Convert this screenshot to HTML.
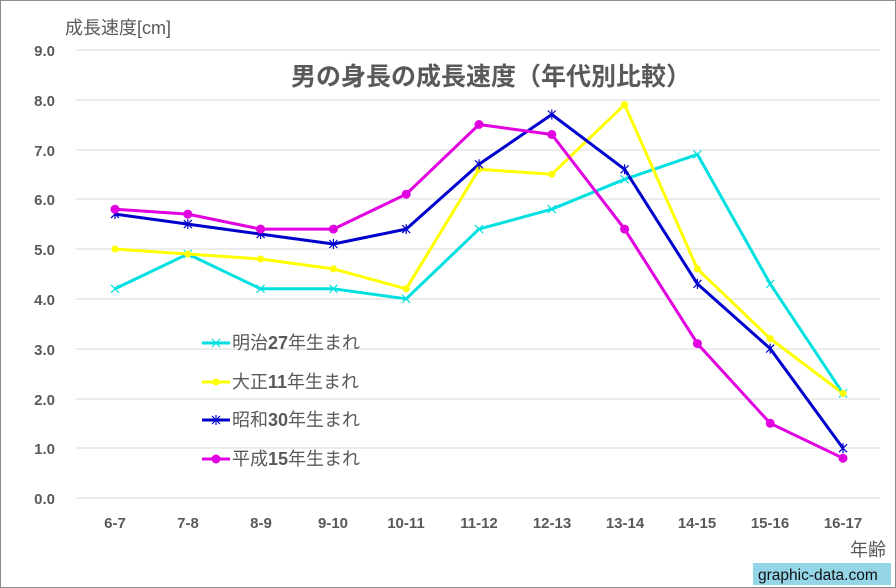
<!DOCTYPE html>
<html><head><meta charset="utf-8"><style>
body{margin:0;background:#fff}
svg{display:block;font-family:"Liberation Sans","Noto Sans CJK JP",sans-serif}
</style></head><body>
<svg width="896" height="588" viewBox="0 0 896 588">
<defs>
<g id="xm" stroke="#00e0e0" stroke-width="1.2"><line x1="-4" y1="-4" x2="4" y2="4"/><line x1="-4" y1="4" x2="4" y2="-4"/></g>
<g id="am" stroke="#0000cc" stroke-width="1.2"><line x1="-4" y1="-4" x2="4" y2="4"/><line x1="-4" y1="4" x2="4" y2="-4"/><line x1="0" y1="-5" x2="0" y2="5"/></g>
</defs>
<rect x="0.5" y="0.5" width="895" height="587" fill="#fff" stroke="#8c8c8c"/>
<g stroke="#d9d9d9" stroke-width="1">
<line x1="76" x2="880" y1="50" y2="50"/><line x1="76" x2="880" y1="100" y2="100"/>
<line x1="76" x2="880" y1="150" y2="150"/><line x1="76" x2="880" y1="199" y2="199"/>
<line x1="76" x2="880" y1="249" y2="249"/><line x1="76" x2="880" y1="299" y2="299"/>
<line x1="76" x2="880" y1="349" y2="349"/><line x1="76" x2="880" y1="399" y2="399"/>
<line x1="76" x2="880" y1="448" y2="448"/><line x1="76" x2="880" y1="498" y2="498"/>
</g>
<g fill="#595959" font-size="15" font-weight="bold" text-anchor="end">
<text x="55" y="56">9.0</text><text x="55" y="106">8.0</text><text x="55" y="156">7.0</text>
<text x="55" y="205">6.0</text><text x="55" y="255">5.0</text><text x="55" y="305">4.0</text>
<text x="55" y="355">3.0</text><text x="55" y="405">2.0</text><text x="55" y="454">1.0</text>
<text x="55" y="504">0.0</text>
</g>
<g fill="#595959" font-size="15" font-weight="bold" text-anchor="middle">
<text x="115" y="528">6-7</text><text x="188" y="528">7-8</text><text x="261" y="528">8-9</text>
<text x="333" y="528">9-10</text><text x="406" y="528">10-11</text><text x="479" y="528">11-12</text>
<text x="552" y="528">12-13</text><text x="625" y="528">13-14</text><text x="697" y="528">14-15</text>
<text x="770" y="528">15-16</text><text x="843" y="528">16-17</text>
</g>
<text x="65" y="34" fill="#595959" font-size="18">成長速度[cm]</text>
<text x="491" y="85" fill="#595959" font-size="25" font-weight="bold" text-anchor="middle">男の身長の成長速度（年代別比較）</text>
<text x="886" y="556" fill="#595959" font-size="18" text-anchor="end">年齢</text>
<rect x="753" y="563" width="138" height="22" fill="#95d5e8"/>
<text x="758" y="580" fill="#111" font-size="15.5">graphic-data.com</text>

<g fill="none" stroke-width="3" stroke-linejoin="round">
<polyline stroke="#00e0e0" points="115,288.8 187.8,254 260.6,288.8 333.4,288.8 406.2,298.8 479,229.1 551.8,209.2 624.6,179.3 697.4,154.4 770.2,283.9 843,393.4"/>
<polyline stroke="#ffff00" points="115,249 187.8,254 260.6,259 333.4,268.9 406.2,288.8 479,169.3 551.8,174.3 624.6,104.6 697.4,268.9 770.2,338.6 843,393.4"/>
<polyline stroke="#0000cc" points="115,214.1 187.8,224.1 260.6,234.1 333.4,244 406.2,229.1 479,164.3 551.8,114.5 624.6,169.3 697.4,283.9 770.2,348.6 843,448.2"/>
<polyline stroke="#e000e0" points="115,209.2 187.8,214.1 260.6,229.1 333.4,229.1 406.2,194.2 479,124.5 551.8,134.5 624.6,229.1 697.4,343.6 770.2,423.3 843,458.2"/>
</g>
<use href="#xm" x="115" y="288.8"/><use href="#xm" x="187.8" y="254"/><use href="#xm" x="260.6" y="288.8"/><use href="#xm" x="333.4" y="288.8"/><use href="#xm" x="406.2" y="298.8"/><use href="#xm" x="479" y="229.1"/><use href="#xm" x="551.8" y="209.2"/><use href="#xm" x="624.6" y="179.3"/><use href="#xm" x="697.4" y="154.4"/><use href="#xm" x="770.2" y="283.9"/><use href="#xm" x="843" y="393.4"/>
<g fill="#ffff00">
<circle cx="115" cy="249" r="3.5"/><circle cx="187.8" cy="254" r="3.5"/><circle cx="260.6" cy="259" r="3.5"/><circle cx="333.4" cy="268.9" r="3.5"/><circle cx="406.2" cy="288.8" r="3.5"/><circle cx="479" cy="169.3" r="3.5"/><circle cx="551.8" cy="174.3" r="3.5"/><circle cx="624.6" cy="104.6" r="3.5"/><circle cx="697.4" cy="268.9" r="3.5"/><circle cx="770.2" cy="338.6" r="3.5"/><circle cx="843" cy="393.4" r="3.5"/>
</g>
<use href="#am" x="115" y="214.1"/><use href="#am" x="187.8" y="224.1"/><use href="#am" x="260.6" y="234.1"/><use href="#am" x="333.4" y="244"/><use href="#am" x="406.2" y="229.1"/><use href="#am" x="479" y="164.3"/><use href="#am" x="551.8" y="114.5"/><use href="#am" x="624.6" y="169.3"/><use href="#am" x="697.4" y="283.9"/><use href="#am" x="770.2" y="348.6"/><use href="#am" x="843" y="448.2"/>
<g fill="#e000e0">
<circle cx="115" cy="209.2" r="4.5"/><circle cx="187.8" cy="214.1" r="4.5"/><circle cx="260.6" cy="229.1" r="4.5"/><circle cx="333.4" cy="229.1" r="4.5"/><circle cx="406.2" cy="194.2" r="4.5"/><circle cx="479" cy="124.5" r="4.5"/><circle cx="551.8" cy="134.5" r="4.5"/><circle cx="624.6" cy="229.1" r="4.5"/><circle cx="697.4" cy="343.6" r="4.5"/><circle cx="770.2" cy="423.3" r="4.5"/><circle cx="843" cy="458.2" r="4.5"/>
</g>

<g fill="none" stroke-width="3">
<line x1="202" x2="230" y1="343" y2="343" stroke="#00e0e0"/>
<line x1="202" x2="230" y1="382" y2="382" stroke="#ffff00"/>
<line x1="202" x2="230" y1="420" y2="420" stroke="#0000cc"/>
<line x1="202" x2="230" y1="459" y2="459" stroke="#e000e0"/>
</g>
<use href="#xm" x="216" y="343"/>
<circle cx="216" cy="382" r="3.5" fill="#ffff00"/>
<use href="#am" x="216" y="420"/>
<circle cx="216" cy="459" r="4.5" fill="#e000e0"/>
<g fill="#595959" font-size="18">
<text x="232" y="349">明治<tspan font-weight="bold">27</tspan>年生まれ</text>
<text x="232" y="388">大正<tspan font-weight="bold">11</tspan>年生まれ</text>
<text x="232" y="426">昭和<tspan font-weight="bold">30</tspan>年生まれ</text>
<text x="232" y="465">平成<tspan font-weight="bold">15</tspan>年生まれ</text>
</g>
</svg>
</body></html>
